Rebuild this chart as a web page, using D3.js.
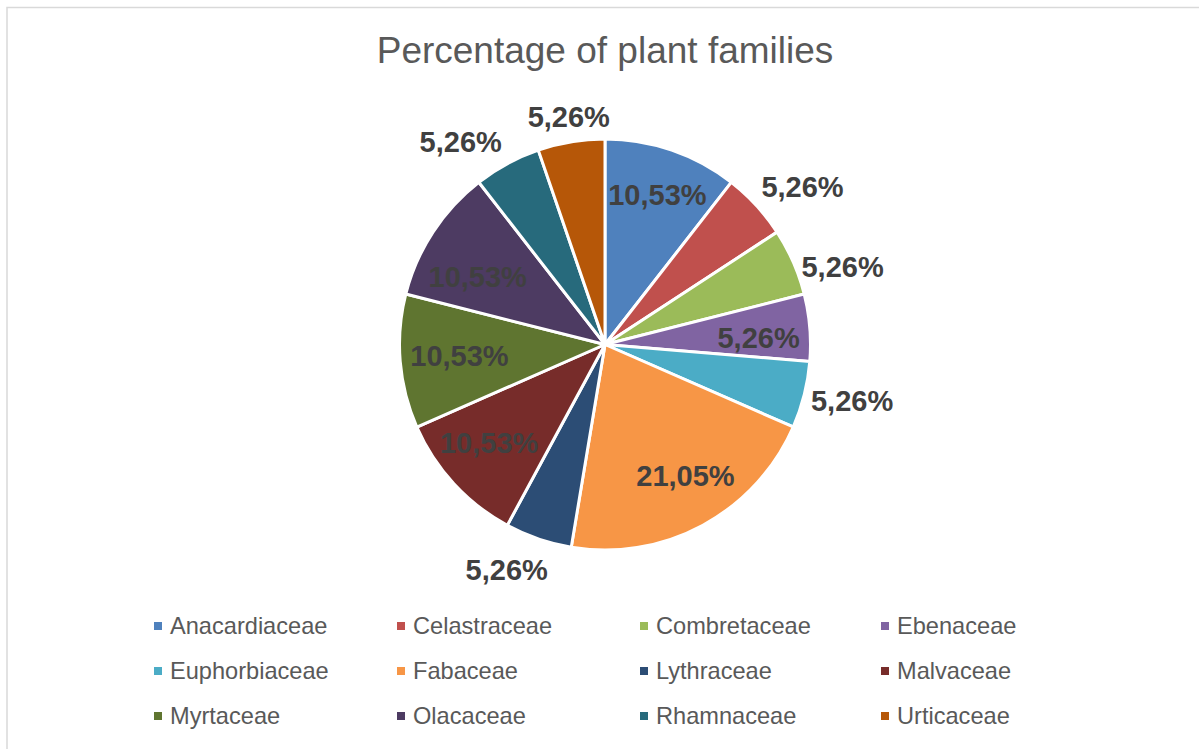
<!DOCTYPE html>
<html>
<head>
<meta charset="utf-8">
<script src="https://cdn.jsdelivr.net/npm/d3@7"></script>
<style>
  html, body { margin: 0; padding: 0; background: #fff; }
  svg { display: block; }
</style>
</head>
<body>
<svg id="chart" width="1199" height="749"></svg>
<script>
// Plant families and their share of recorded species (counts out of 19)
const families = ["Anacardiaceae", "Celastraceae", "Combretaceae", "Ebenaceae",
  "Euphorbiaceae", "Fabaceae", "Lythraceae", "Malvaceae",
  "Myrtaceae", "Olacaceae", "Rhamnaceae", "Urticaceae"];
const percentages = [10.53, 5.26, 5.26, 5.26, 5.26, 21.05, 5.26, 10.53, 10.53, 10.53, 5.26, 5.26];
const percentLabels = ["10,53%", "5,26%", "5,26%", "5,26%", "5,26%", "21,05%",
  "5,26%", "10,53%", "10,53%", "10,53%", "5,26%", "5,26%"];
const sliceColors = ["#4F81BD", "#C0504D", "#9BBB59", "#8064A2", "#4BACC6", "#F79646",
  "#2C4D75", "#772C2A", "#5F7530", "#4D3B62", "#276A7C", "#B65708"];

// data label layout: inside the slice or beyond the rim, plus a small best-fit nudge (px)
const labelInside = [true, false, false, true, false, true, false, true, true, true, false, false];
const labelNudge = [[3, -6], [13, 12], [8, 23], [2, 6], [4, -5], [8, -2],
  [-17, -12], [-4, -5], [6, -1], [0, 16], [-25, 18], [5, 20]];

const W = 1199, H = 749;
const cx = 605, cy = 344.5, R = 205.5;
const FONT = "Liberation Sans, Arial, sans-serif";
const svg = d3.select("#chart");

// chart area frame
svg.append("rect")
  .attr("x", 7).attr("y", 7.5)
  .attr("width", W + 10).attr("height", H + 10)
  .attr("fill", "none").attr("stroke", "#d9d9d9").attr("stroke-width", 1.5);

// title
svg.append("text")
  .attr("x", cx).attr("y", 63)
  .attr("text-anchor", "middle")
  .attr("font-family", FONT)
  .attr("font-size", 37)
  .attr("fill", "#595959")
  .text("Percentage of plant families");

const data = families.map((f, i) => ({
  name: f, value: percentages[i], label: percentLabels[i], color: sliceColors[i],
  inside: labelInside[i], nudge: labelNudge[i]
}));

const pie = d3.pie().value(d => d.value).sort(null);
const arcs = pie(data);
const arc = d3.arc().innerRadius(0).outerRadius(R);

const g = svg.append("g").attr("transform", `translate(${cx},${cy})`);

g.selectAll("path.slice")
  .data(arcs)
  .join("path")
  .attr("class", "slice")
  .attr("d", arc)
  .attr("fill", d => d.data.color)
  .attr("stroke", "#fff")
  .attr("stroke-width", 3)
  .attr("stroke-linejoin", "round");

const innerArc = d3.arc().innerRadius(R * 0.74).outerRadius(R * 0.74);
const outerArc = d3.arc().innerRadius(R * 1.22).outerRadius(R * 1.22);

g.selectAll("text.pct")
  .data(arcs)
  .join("text")
  .attr("class", "pct")
  .attr("transform", d => {
    const [x, y] = (d.data.inside ? innerArc : outerArc).centroid(d);
    return `translate(${x + d.data.nudge[0]},${y + d.data.nudge[1]})`;
  })
  .attr("text-anchor", "middle")
  .attr("dominant-baseline", "central")
  .attr("font-family", FONT)
  .attr("font-weight", "bold")
  .attr("font-size", 29)
  .attr("fill", "#404040")
  .text(d => d.data.label);

// legend: 4 columns x 3 rows
const colX = [154, 397, 640, 881];
const rowY = [626, 671, 716];
const legend = svg.append("g");
const items = legend.selectAll("g.item")
  .data(data)
  .join("g")
  .attr("class", "item")
  .attr("transform", (d, i) => `translate(${colX[i % 4]},${rowY[Math.floor(i / 4)]})`);

items.append("rect")
  .attr("x", 0).attr("y", -4)
  .attr("width", 8).attr("height", 8)
  .attr("fill", d => d.color);

items.append("text")
  .attr("x", 16).attr("y", 0)
  .attr("dominant-baseline", "central")
  .attr("font-family", FONT)
  .attr("font-size", 23.6)
  .attr("fill", "#595959")
  .text(d => d.name);
</script>
</body>
</html>
